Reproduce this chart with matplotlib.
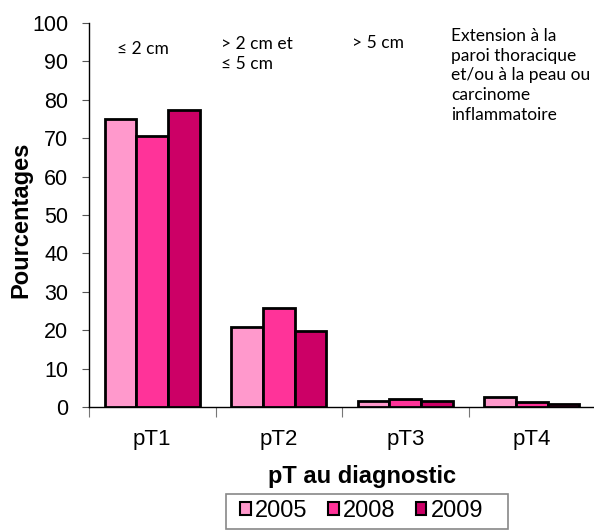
import numpy as np
import matplotlib
matplotlib.use("Agg")
import matplotlib.pyplot as plt
from matplotlib.patches import Patch, Rectangle

categories = ["pT1", "pT2", "pT3", "pT4"]
years = ["2005", "2008", "2009"]
v2005 = [74.9, 20.9, 1.6, 2.6]
v2008 = [70.7, 25.8, 2.0, 1.3]
v2009 = [77.4, 19.9, 1.5, 0.9]
notes = ["≤ 2 cm", "> 2 cm et\n≤ 5 cm", "> 5 cm",
         "Extension à la\nparoi thoracique\net/ou à la peau ou\ncarcinome\ninflammatoire"]

COLORS = ["#FF99CC", "#FF3399", "#CC0066"]
W, H = 594, 530

plt.rcParams["font.family"] = ["Liberation Sans", "DejaVu Sans"]

fig = plt.figure(figsize=(W / 100, H / 100), dpi=100)
# plot area in pixels: x 89..595, y 23..407
ax = fig.add_axes([89 / W, 1 - 407 / H, 506 / W, 384 / H])

x = np.arange(len(categories))
w = 0.25
for i, vals in enumerate([v2005, v2008, v2009]):
    ax.bar(x + (i - 1) * w, vals, width=w, color=COLORS[i],
           edgecolor="black", linewidth=2, zorder=3)

ax.set_xlim(-0.5, 3.5)
ax.set_ylim(0, 100)
ax.set_yticks(range(0, 101, 10))
ax.tick_params(axis="y", labelsize=15.5, length=5, width=0.8, pad=10,
               direction="out", color="#555555")
ax.set_xticks(x)
ax.set_xticklabels(categories, fontsize=16)
ax.tick_params(axis="x", length=0, pad=16)
# category separators below the axis
ax.set_xticks(np.arange(-0.5, 3.6, 1), minor=True)
ax.tick_params(axis="x", which="minor", length=7, width=0.8,
               direction="out", color="#777777")
ax.spines[["top", "right"]].set_visible(False)
ax.spines["left"].set_linewidth(1)
ax.spines["bottom"].set_linewidth(1)

ax.set_ylabel("Pourcentages", fontsize=17, fontweight="bold")
ax.yaxis.set_label_coords(-0.111, 0.487)
ax.set_xlabel("pT au diagnostic", fontsize=17, fontweight="bold")
ax.xaxis.set_label_coords(0.54, -0.151)

note_x = [-0.28, 0.54, 1.58, 2.36]
note_y = [95.2, 96.5, 97.0, 98.8]
for xi, yi, t in zip(note_x, note_y, notes):
    ax.text(xi, yi, t, fontsize=12.5, va="top", ha="left", linespacing=1.3,
            family=["Lato", "DejaVu Sans"])

# legend frame at the bottom edge
fig.patches.append(Rectangle((226 / W, 1 - 529 / H), 282 / W, 35 / H,
                             transform=fig.transFigure, facecolor="white",
                             edgecolor="#888888", linewidth=1.2))
handles = [Patch(facecolor=c, edgecolor="black", linewidth=1.5) for c in COLORS]
fig.legend(handles, years, loc="center left",
           bbox_to_anchor=(240 / W, 1 - 511 / H), borderaxespad=0,
           ncol=3, fontsize=17, frameon=False,
           handlelength=0.45, handleheight=0.45, handletextpad=0.2,
           columnspacing=0.85, borderpad=0)

fig.savefig("out.png", dpi=100)
